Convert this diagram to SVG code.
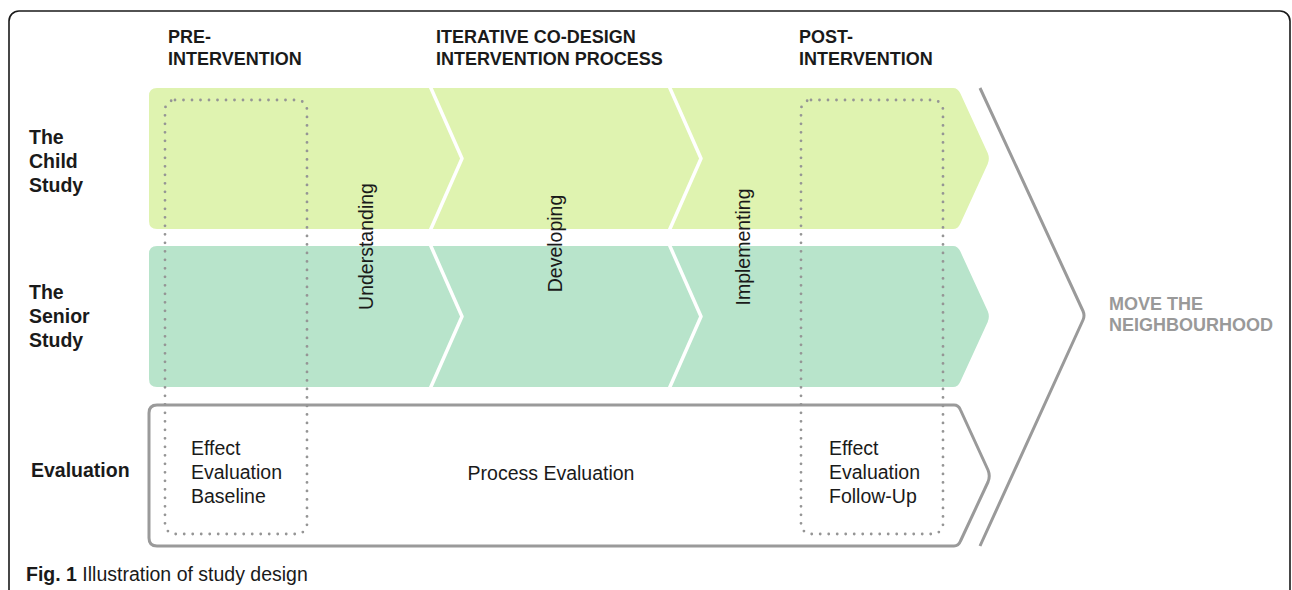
<svg xmlns="http://www.w3.org/2000/svg" width="1292" height="590" viewBox="0 0 1292 590">
<style>
.hd{font-family:"Liberation Sans",Arial,sans-serif;font-weight:bold;font-size:18px;fill:#1a1a1a}
.rl{font-family:"Liberation Sans",Arial,sans-serif;font-weight:bold;font-size:19.5px;fill:#1a1a1a}
.tx{font-family:"Liberation Sans",Arial,sans-serif;font-size:19.5px;fill:#1a1a1a}
.gr{font-family:"Liberation Sans",Arial,sans-serif;font-weight:bold;font-size:18px;fill:#999}
.sep{fill:none;stroke:#fff;stroke-width:3.5;stroke-linejoin:round}
.dot{fill:none;stroke:#959595;stroke-width:2.8;stroke-dasharray:0 8.5;stroke-linecap:round}
.gline{fill:none;stroke:#9a9a9a;stroke-width:3;stroke-linejoin:round}
</style>
<rect id="frame" x="9" y="11" width="1281" height="620" rx="10" fill="#fff" stroke="#1a1a1a" stroke-width="1.6"/>
<g id="headers">
<text class="hd" x="168" y="43">PRE-</text>
<text class="hd" x="168" y="65">INTERVENTION</text>
<text class="hd" x="436" y="43">ITERATIVE CO-DESIGN</text>
<text class="hd" x="436" y="65">INTERVENTION PROCESS</text>
<text class="hd" x="799" y="43">POST-</text>
<text class="hd" x="799" y="65">INTERVENTION</text>
</g>
<g id="child-study">
<path d="M157,88 H953 Q958,88 960.4,93.6 L987.7,153 Q990,158.5 987.7,164 L960.4,223.4 Q958,229 953,229 H157 Q149,229 149,221 V96 Q149,88 157,88 Z" fill="#dff3b0"/>
<path class="sep" d="M430,86 L462,158.5 L430,231"/>
<path class="sep" d="M669,86 L701,158.5 L669,231"/>
<text class="rl" x="29" y="144">The</text>
<text class="rl" x="29" y="168">Child</text>
<text class="rl" x="29" y="192">Study</text>
</g>
<g id="senior-study">
<path d="M157,246 H953 Q958,246 960.4,251.6 L987.7,311 Q990,316.5 987.7,322 L960.4,381.4 Q958,387 953,387 H157 Q149,387 149,379 V254 Q149,246 157,246 Z" fill="#b8e4cb"/>
<path class="sep" d="M430,244 L462,316.5 L430,389"/>
<path class="sep" d="M669,244 L701,316.5 L669,389"/>
<text class="rl" x="29" y="299">The</text>
<text class="rl" x="29" y="323">Senior</text>
<text class="rl" x="29" y="347">Study</text>
</g>
<g id="phases">
<text class="tx" text-anchor="middle" transform="translate(373,246.5) rotate(-90)">Understanding</text>
<text class="tx" text-anchor="middle" transform="translate(562,243.5) rotate(-90)">Developing</text>
<text class="tx" text-anchor="middle" transform="translate(750,247) rotate(-90)">Implementing</text>
</g>
<g id="evaluation">
<path class="gline" d="M157,405 H954 Q958.5,405 960.5,410 L988,470 Q990.5,476 988,482 L960.5,541 Q958.5,546 954,546 H157 Q149,546 149,538 V413 Q149,405 157,405 Z"/>
<text class="rl" x="31" y="477">Evaluation</text>
<text class="tx" x="551" y="480" text-anchor="middle">Process Evaluation</text>
</g>
<g id="baseline">
<rect class="dot" x="165" y="100" width="142" height="434" rx="10"/>
<text class="tx" x="191" y="455">Effect</text>
<text class="tx" x="191" y="479">Evaluation</text>
<text class="tx" x="191" y="503">Baseline</text>
</g>
<g id="follow-up">
<rect class="dot" x="801" y="100" width="142" height="434" rx="10"/>
<text class="tx" x="829" y="455">Effect</text>
<text class="tx" x="829" y="479">Evaluation</text>
<text class="tx" x="829" y="503">Follow-Up</text>
</g>
<g id="connectors">
<path class="gline" d="M980,88 L1083,311 Q1085,315.5 1083,320 L980,546"/>
</g>
<g id="move-neighbourhood">
<text class="gr" x="1109" y="310">MOVE THE</text>
<text class="gr" x="1109" y="331">NEIGHBOURHOOD</text>
</g>
<g id="caption">
<text class="tx" x="26" y="581"><tspan font-weight="bold">Fig. 1</tspan> Illustration of study design</text>
</g>
</svg>
